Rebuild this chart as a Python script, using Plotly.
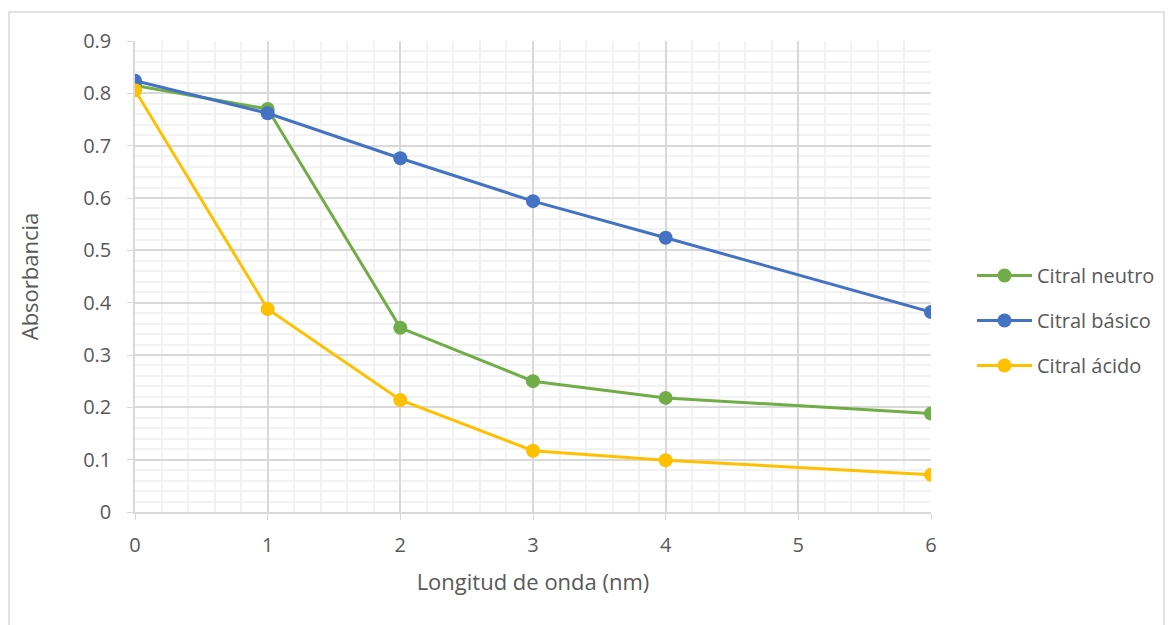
import plotly.graph_objects as go

x_vals = [0, 1, 2, 3, 4, 6]
neutro = [0.815, 0.770, 0.352, 0.250, 0.218, 0.188]
basico = [0.824, 0.762, 0.676, 0.594, 0.524, 0.382]
acido = [0.806, 0.388, 0.214, 0.117, 0.099, 0.071]
series_names = ["Citral neutro", "Citral básico", "Citral ácido"]
colors = ["#70AD47", "#4472C4", "#FFC000"]
x_ticks = [0, 1, 2, 3, 4, 5, 6]
y_ticks = [0, 0.1, 0.2, 0.3, 0.4, 0.5, 0.6, 0.7, 0.8, 0.9]

W, H = 1173, 625
L, R, T, B = 135, 931, 41, 512

fig = go.Figure()
for name, vals, c in zip(series_names, [neutro, basico, acido], colors):
    fig.add_trace(go.Scatter(x=x_vals, y=vals, name=name, mode="lines+markers",
                             legendgroup=name,
                             line=dict(color=c, width=3),
                             marker=dict(color=c, size=14)))

font_family = "Open Sans, Liberation Sans, sans-serif"
txt = "#595959"

def px_x(p):
    return (p - L) / (R - L)

def px_y(p):
    return (B - p) / (B - T)

fig.update_layout(
    width=W, height=H,
    margin=dict(l=L, r=W - R, t=T, b=H - B, autoexpand=False),
    plot_bgcolor="white", paper_bgcolor="white",
    font=dict(family=font_family, color=txt, size=20),
    xaxis=dict(range=[0, 6], tickvals=x_ticks, ticktext=[str(v) for v in x_ticks],
               showgrid=True, gridcolor="#D9D9D9", gridwidth=1.5,
               minor=dict(dtick=0.2, showgrid=True, gridcolor="#F2F2F2", gridwidth=1.5),
               showline=True, linecolor="#D9D9D9", linewidth=1.5,
               ticks="outside", ticklen=6, tickcolor="#D9D9D9",
               ticklabelstandoff=8,
               zeroline=False, automargin=False,
               title=dict(text="Longitud de onda (nm)", font=dict(size=22, color=txt), standoff=18),
               tickfont=dict(size=20, color=txt)),
    yaxis=dict(range=[0, 0.9], tickvals=y_ticks, ticktext=[f"{v:g}" for v in y_ticks],
               showgrid=True, gridcolor="#D9D9D9", gridwidth=1.5,
               minor=dict(dtick=0.02, showgrid=True, gridcolor="#F2F2F2", gridwidth=1.5),
               showline=True, linecolor="#D9D9D9", linewidth=1.5,
               ticks="outside", ticklen=6, tickcolor="#D9D9D9",
               ticklabelstandoff=12,
               zeroline=False, automargin=False,
               title=dict(text="Absorbancia", font=dict(size=22, color=txt), standoff=38),
               tickfont=dict(size=20, color=txt)),
    legend=dict(x=px_x(972), y=px_y(256), xanchor="left", yanchor="top",
                font=dict(size=20, color=txt), itemwidth=55, tracegroupgap=16,
                bgcolor="rgba(0,0,0,0)"),
    shapes=[dict(type="rect", xref="paper", yref="paper",
                 x0=px_x(9), x1=px_x(1164), y0=px_y(640), y1=px_y(12),
                 line=dict(color="#D9D9D9", width=1.5), fillcolor="rgba(0,0,0,0)",
                 layer="below")],
)

fig.write_html("out.html")
